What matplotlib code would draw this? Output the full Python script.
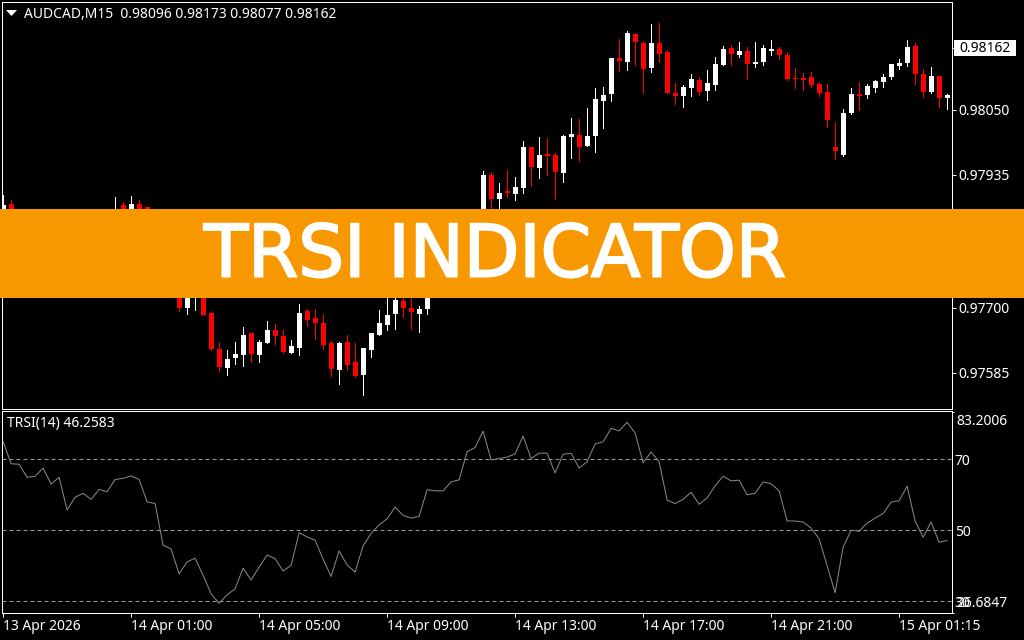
import matplotlib
matplotlib.use("Agg")
import matplotlib.pyplot as plt
import matplotlib.patheffects as pe
from matplotlib.patches import Rectangle, Polygon
import numpy as np

W, H = 1024, 640
SCALE = 1e5

opens = [97864,97884,97866,97850,97842,97860,97832,97852,97846,97862,97854,97864,97858,97866,97860,97882,97866,97884,97878,97840,
         97800,97760,97730,97700,97725,97750,97691,97627,97594,97611,97617,97655,97617,97638,97661,97650,97620,97629,97694,97682,
         97673,97638,97590,97640,97604,97581,97625,97652,97670,97689,97712,97700,97689,97698,97728,97752,97782,97778,97812,97832,
         97850,97935,97893,97907,97901,97912,97985,97947,97972,97970,97939,98002,98006,97986,98004,98066,98078,98142,98135,98184,
         98169,98124,98169,98153,98080,98075,98089,98103,98084,98094,98130,98160,98147,98154,98131,98135,98154,98158,98147,98107,
         98107,98108,98096,98082,97985,97970,98045,98078,98077,98089,98100,98108,98128,98133,98163,98114,98082,98110,98071]
highs = [97900,97891,97870,97862,97866,97868,97856,97866,97868,97870,97868,97870,97869,97870,97896,97887,97898,97891,97878,97850,
         97812,97772,97735,97740,97760,97755,97691,97640,97625,97640,97666,97655,97643,97677,97671,97661,97643,97707,97698,97698,
         97687,97641,97640,97652,97638,97629,97655,97696,97730,97725,97728,97730,97703,97735,97760,97790,97800,97820,97840,97860,
         97942,97940,97921,97944,97931,97995,97985,98002,98000,97974,98006,98036,98034,98054,98089,98091,98142,98176,98190,98186,
         98170,98202,98204,98156,98098,98094,98114,98108,98121,98144,98163,98165,98170,98161,98170,98165,98174,98161,98153,98124,
         98115,98117,98100,98096,98027,98052,98089,98100,98096,98103,98114,98131,98140,98174,98169,98123,98126,98110,98078]
lows = [97855,97852,97845,97835,97838,97828,97825,97840,97836,97848,97850,97852,97850,97856,97852,97858,97860,97855,97832,97790,
        97750,97725,97694,97689,97696,97687,97625,97588,97581,97601,97597,97604,97604,97638,97636,97620,97620,97617,97668,97645,
        97627,97579,97565,97590,97578,97546,97613,97652,97661,97663,97684,97663,97657,97689,97724,97745,97770,97772,97805,97825,
        97840,97868,97866,97896,97891,97903,97916,97930,97935,97893,97923,97965,97960,97986,97976,98018,98066,98119,98121,98130,
        98080,98117,98135,98080,98061,98055,98075,98077,98068,98085,98130,98130,98144,98105,98126,98130,98147,98140,98103,98089,
        98085,98091,98075,98020,97963,97969,98043,98050,98071,98082,98091,98105,98123,98128,98096,98073,98080,98055,98052]
closes = [97882,97866,97850,97842,97860,97832,97852,97846,97862,97854,97864,97858,97866,97868,97869,97866,97884,97862,97840,97800,
          97760,97730,97700,97728,97750,97687,97627,97595,97610,97618,97652,97618,97640,97661,97650,97622,97632,97691,97678,97673,
          97634,97592,97638,97599,97579,97629,97655,97673,97687,97714,97700,97693,97698,97728,97752,97782,97778,97812,97832,97850,
          97935,97893,97903,97903,97914,97985,97949,97970,97969,97940,98004,98008,97985,98004,98069,98077,98142,98137,98186,98170,
          98123,98169,98149,98080,98075,98091,98105,98082,98098,98131,98158,98149,98154,98131,98135,98160,98158,98147,98105,98105,
          98103,98094,98080,98032,97977,98045,98078,98075,98092,98101,98108,98131,98133,98161,98114,98082,98110,98071,98077]
trsi = [75.0,68.7,68.6,64.9,65.2,67.5,63.0,64.9,55.7,59.3,60.4,58.7,61.5,60.8,64.3,64.6,65.3,64.3,58.0,57.5,
        45.8,44.7,37.7,41.1,42.1,37.3,32.1,29.4,31.8,33.5,39.3,36.0,39.6,43.0,42.0,38.5,40.1,49.3,48.1,47.2,
        41.8,37.0,44.2,40.2,38.2,45.6,49.1,51.5,53.2,56.5,54.2,53.4,53.9,61.4,61.1,61.1,63.6,64.2,72.1,73.3,
        77.9,69.8,70.2,70.6,71.5,76.5,70.2,71.7,71.7,66.1,71.4,71.7,67.5,69.3,74.3,74.9,78.7,78.0,80.4,77.4,
        69.0,72.0,69.3,58.5,57.5,58.7,60.7,57.3,59.1,62.5,65.2,63.9,64.1,60.0,60.4,63.6,63.1,61.1,52.6,52.6,
        52.3,50.6,47.6,40.0,32.4,45.2,50.0,49.7,52.0,53.4,54.7,57.9,58.3,62.4,52.6,48.0,52.3,46.6,47.1]

price_ticks = [0.98160, 0.98050, 0.97935, 0.97820, 0.97700, 0.97585]
price_labels = ["", "0.98050", "0.97935", "0.97820", "0.97700", "0.97585"]
last_label = "0.98162"
levels = [70, 50, 30]
trsi_top, trsi_bottom = 83.2006, 26.6847
time_ticks = [0, 16, 32, 48, 64, 80, 96, 112]
time_labels = ["13 Apr 2026", "14 Apr 01:00", "14 Apr 05:00", "14 Apr 09:00",
               "14 Apr 13:00", "14 Apr 17:00", "14 Apr 21:00", "15 Apr 01:15"]
header = "AUDCAD,M15  0.98096 0.98173 0.98077 0.98162"
trsi_title = "TRSI(14) 46.2583"
banner_title = "TRSI INDICATOR"

FONT = "Noto Sans"
FS = 10.0
WHITE = "#ffffff"
RED = "#ff0000"
ORANGE = "#f89800"
GREY = "#8a8a8a"


def px_rect(left, top, right, bottom):
    return [left / W, 1 - bottom / H, (right - left) / W, (bottom - top) / H]


fig = plt.figure(figsize=(W / 100, H / 100), dpi=100, facecolor="black")
top = fig.add_axes(px_rect(2, 2, 952, 409), facecolor="black")
low = fig.add_axes(px_rect(2, 411, 952, 613), facecolor="black")

o, h, l, c = [np.array(a) / SCALE for a in (opens, highs, lows, closes)]
idx = np.arange(len(o))
colors = [WHITE if cc >= oo else RED for oo, cc in zip(o, c)]
top.vlines(idx, l, h, colors=colors, linewidth=0.72, antialiased=False, zorder=2)
top.bar(idx, np.abs(c - o), bottom=np.minimum(o, c), width=0.625, color=colors,
        linewidth=0, antialiased=False, zorder=3)
x0, x1 = -0.1375, 118.6125
top.set_xlim(x0, x1)
top.set_ylim(0.97521, 0.98241)
top.set_xticks([])
top.yaxis.tick_right()
top.set_yticks(price_ticks, price_labels)

low.plot(np.arange(len(trsi)), trsi, color=GREY, linewidth=0.72, zorder=3)
for lev in levels:
    low.axhline(lev, color="#9a9a9a", linewidth=0.72, dashes=(4, 3), zorder=2)
low.set_xlim(x0, x1)
low.set_ylim(26.68, 83.58)
low.set_xticks(time_ticks, time_labels, ha="left")
low.yaxis.tick_right()
low.set_yticks(levels, [str(v) for v in levels])
low.set_yticks([trsi_top, trsi_bottom], minor=True)

for ax in (top, low):
    for sp in ax.spines.values():
        sp.set_color(WHITE)
        sp.set_linewidth(0.72)
    ax.tick_params(axis="both", colors=WHITE, length=2.9, width=0.72, pad=1.5,
                   labelsize=FS, labelfontfamily=FONT)
low.tick_params(axis="x", pad=1.5)
low.tick_params(axis="y", which="major", length=0, pad=2)
low.tick_params(axis="y", which="minor", length=1.5, width=0.72, colors=WHITE)

# extra right-hand labels of the indicator window
low.text(954 / 950, 0.948, "83.2006", transform=low.transAxes, color=WHITE, fontsize=FS,
         family=FONT, va="center", ha="left")
low.text(954 / 950, 0.047, "26.6847", transform=low.transAxes, color=WHITE, fontsize=FS,
         family=FONT, va="center", ha="left")
low.text(5 / 950, 0.938, trsi_title, transform=low.transAxes, color=WHITE, fontsize=FS,
         family=FONT, va="center", ha="left")

# last price box
fig.add_artist(Rectangle((954 / W, 1 - 56 / H), 62 / W, 16 / H, transform=fig.transFigure,
                         facecolor=WHITE, edgecolor="none", zorder=4))
fig.text(959 / W, 1 - 48 / H, last_label, color="black", fontsize=FS, family=FONT,
         va="center", ha="left", zorder=5)

# header
fig.add_artist(Polygon([(6 / W, 1 - 10 / H), (17 / W, 1 - 10 / H), (11.5 / W, 1 - 16 / H)],
                       closed=True, transform=fig.transFigure, facecolor=WHITE,
                       edgecolor="none", zorder=5))
fig.text(24 / W, 1 - 14 / H, header, color=WHITE, fontsize=FS, family=FONT,
         va="center", ha="left", zorder=5)

# banner
fig.add_artist(Rectangle((0, 1 - 297.7 / H), 1, 89 / H, transform=fig.transFigure,
                         facecolor=ORANGE, edgecolor="none", zorder=10))
title = fig.text(495 / W, 1 - 249.5 / H, banner_title, color=WHITE, fontsize=52, family="DejaVu Sans",
                 va="center_baseline", ha="center", zorder=11)
title.set_path_effects([pe.withStroke(linewidth=1.5, foreground=WHITE, joinstyle="miter")])

fig.savefig("out.png", dpi=100, facecolor="black")
